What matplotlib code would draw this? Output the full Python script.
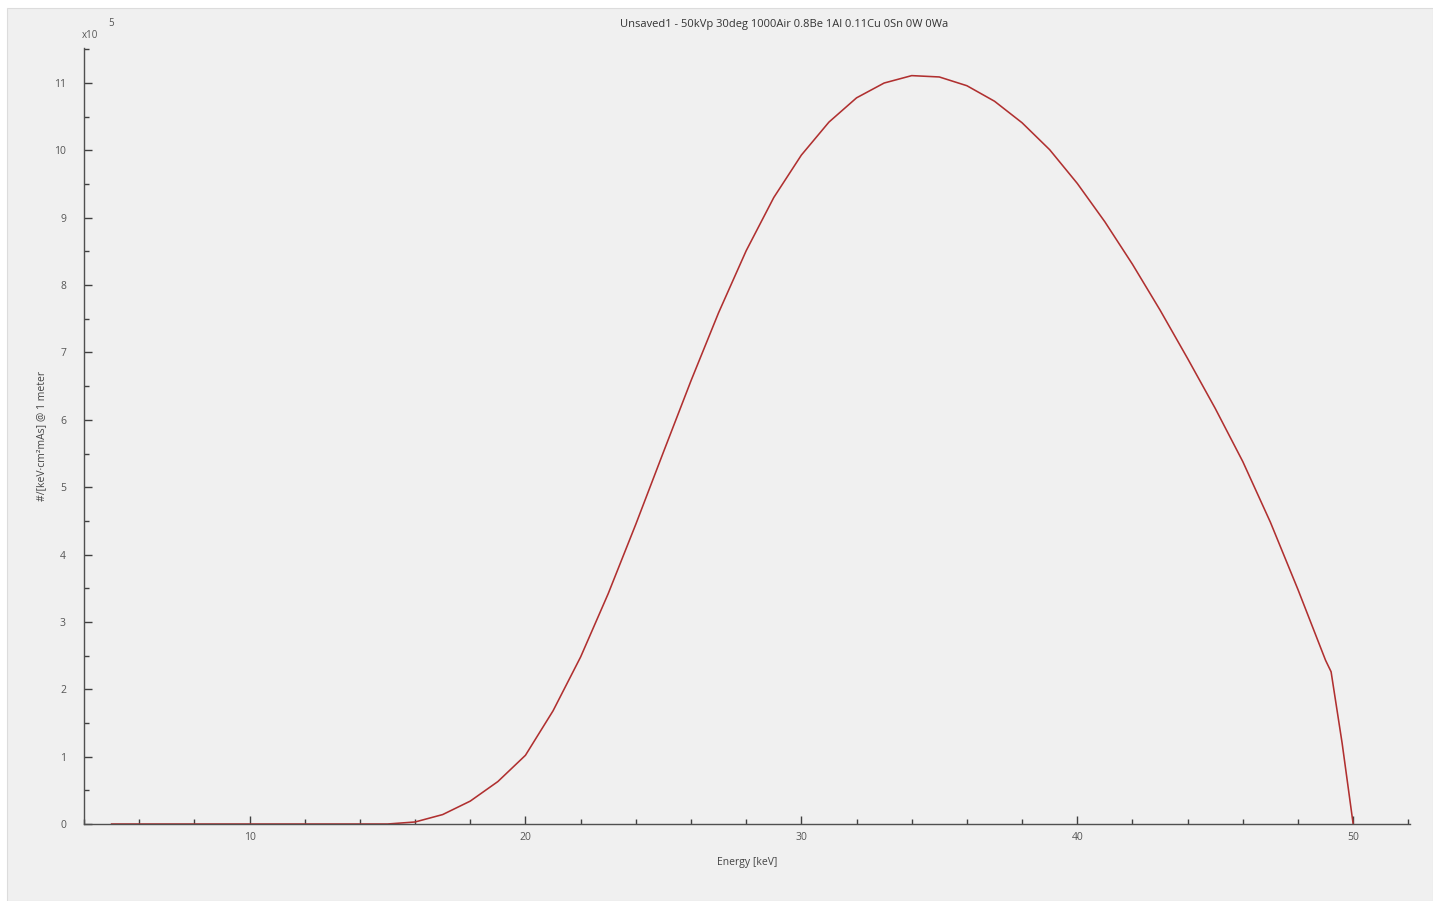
import numpy as np
import matplotlib
matplotlib.use("Agg")
import matplotlib.pyplot as plt
from matplotlib.patches import Rectangle
from matplotlib.ticker import MultipleLocator

# spectrum (values in units of 1e5)
energy_kev = [5, 6, 7, 8, 9, 10, 11, 12, 13, 14, 15, 16, 17, 18, 19, 20,
              21, 22, 23, 24, 25, 26, 27, 28, 29, 30, 31, 32, 33, 34, 35,
              36, 37, 38, 39, 40, 41, 42, 43, 44, 45, 46, 47, 48, 49,
              49.2, 49.6, 50]
fluence = [0, 0, 0, 0, 0, 0, 0, 0, 0, 0, 0, 0.03, 0.14, 0.34, 0.63, 1.02,
           1.68, 2.48, 3.42, 4.45, 5.52, 6.58, 7.59, 8.51, 9.30, 9.93, 10.42,
           10.78, 11.00, 11.11, 11.09, 10.96, 10.73, 10.41, 10.01, 9.51,
           8.94, 8.31, 7.63, 6.91, 6.17, 5.38, 4.48, 3.48, 2.43,
           2.26, 1.2, 0]

title = "Unsaved1 - 50kVp 30deg 1000Air 0.8Be 1Al 0.11Cu 0Sn 0W 0Wa"
x_label = "Energy [keV]"
y_label = "#/[keV·cm²mAs] @ 1 meter"

plt.rcParams['font.family'] = ['Open Sans', 'DejaVu Sans']

bg = '#f0f0f0'
fig = plt.figure(figsize=(14.33, 9.01), dpi=100, facecolor='white')
# grey panel with a thin white frame like the app window
fig.patches.append(Rectangle((7/1433, 0), 1 - 7/1433, 1 - 8/901,
                             transform=fig.transFigure, facecolor=bg,
                             edgecolor='#dcdcdc', linewidth=0.8, zorder=-5))

ax = fig.add_axes([84/1433, 77/901, 1326/1433, 776/901])
ax.patch.set_alpha(0)

ax.plot(energy_kev, fluence, color='#b03030', linewidth=1.15)

ax.set_xlim(4, 52.06)
ax.set_ylim(0, 11.52)
ax.xaxis.set_major_locator(MultipleLocator(10))
ax.xaxis.set_minor_locator(MultipleLocator(2))
ax.yaxis.set_major_locator(MultipleLocator(1))
ax.yaxis.set_minor_locator(MultipleLocator(0.5))

for s in ['top', 'right']:
    ax.spines[s].set_visible(False)
for s in ['left', 'bottom']:
    ax.spines[s].set_color('#505050')
    ax.spines[s].set_linewidth(1.0)

ax.tick_params(which='major', direction='in', length=6, width=1.0,
               color='#404040', labelsize=7.5, labelcolor='#555555')
ax.tick_params(which='minor', direction='in', length=3.5, width=1.0,
               color='#404040')
ax.tick_params(axis='x', which='major', pad=6)
ax.tick_params(axis='y', which='major', pad=13)

ax.set_xlabel(x_label, fontsize=7.5, color='#444444', labelpad=10)
ax.set_ylabel(y_label, fontsize=7.5, color='#444444', labelpad=5)

fig.text(784/1433, 1 - 24/901, title, ha='center', va='center',
         fontsize=8, color='#333333')
fig.text(90/1433, 1 - 35/901, "x10", ha='center', va='center',
         fontsize=7, color='#555555')
fig.text(111/1433, 1 - 23/901, "5", ha='center', va='center',
         fontsize=7, color='#555555')

fig.savefig("out.png", dpi=100, facecolor=fig.get_facecolor())
